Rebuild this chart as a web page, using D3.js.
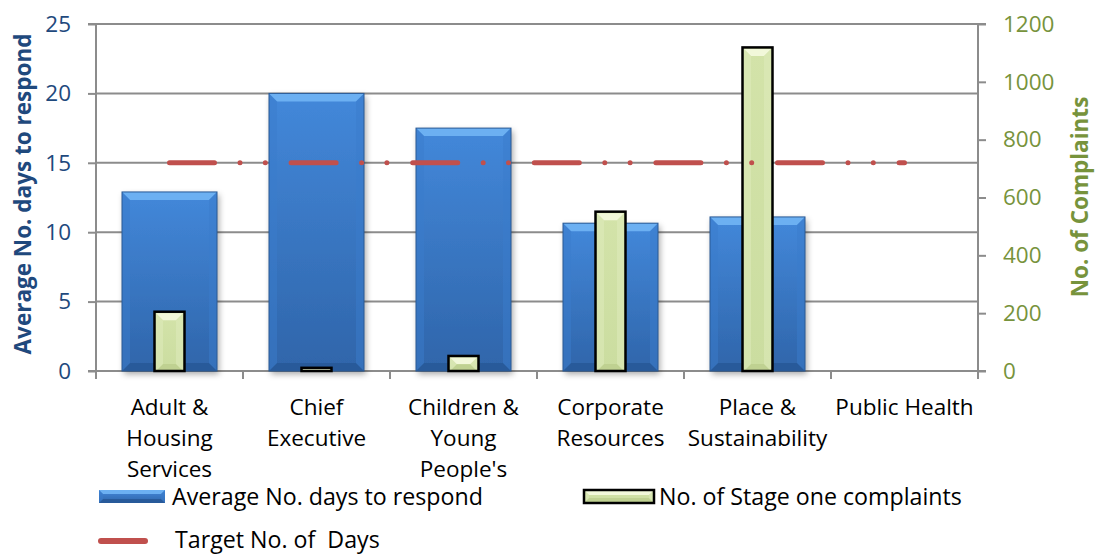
<!DOCTYPE html>
<html><head><meta charset="utf-8">
<script src="https://cdn.jsdelivr.net/npm/d3@7/dist/d3.min.js"></script>
<style>body{margin:0;background:#fff}svg{display:block}text{font-family:"Open Sans",sans-serif}</style>
</head><body><svg id="c" width="1098" height="554"></svg>
<script>
const categories = [["Adult &","Housing","Services"],["Chief","Executive"],["Children &","Young","People's"],["Corporate","Resources"],["Place &","Sustainability"],["Public Health"]];
const catKeys = ["Adult & Housing Services","Chief Executive","Children & Young People's","Corporate Resources","Place & Sustainability","Public Health"];
const avgDays = [12.9, 20.0, 17.5, 10.65, 11.1, 0];
const complaints = [205, 11, 52, 551, 1119, 0];
const target = [15, 15, 15, 15, 15, 15];
const leftTicks = [0,5,10,15,20,25];
const rightTicks = [0,200,400,600,800,1000,1200];

const svg = d3.select("#c");
const X0=96, X1=978, Y0=24, Y1=371;
const FS = 22.5, LFS = 23.2;
const x = d3.scaleBand().domain(catKeys).range([X0,X1]).paddingInner(0).paddingOuter(0);
const yL = d3.scaleLinear().domain([0,25]).range([Y1,Y0]);
const yR = d3.scaleLinear().domain([0,1200]).range([Y1,Y0]);
const gray="#8c8c8c", blueTxt="#1F497D", greenTxt="#77933C";

const defs = svg.append("defs");
const gB = defs.append("linearGradient").attr("id","gb").attr("x1",0).attr("y1",0).attr("x2",0).attr("y2",1);
gB.append("stop").attr("offset","0%").attr("stop-color","#4388da");
gB.append("stop").attr("offset","100%").attr("stop-color","#2f65aa");
const gG = defs.append("linearGradient").attr("id","gg").attr("x1",0).attr("y1",0).attr("x2",0).attr("y2",1);
gG.append("stop").attr("offset","0%").attr("stop-color","#d3e3a9");
gG.append("stop").attr("offset","100%").attr("stop-color","#cbdda0");
const f = defs.append("filter").attr("id","sh").attr("x","-20%").attr("y","-10%").attr("width","150%").attr("height","130%");
f.append("feDropShadow").attr("dx",2).attr("dy",3).attr("stdDeviation",3).attr("flood-color","#000").attr("flood-opacity",0.35);

// gridlines
svg.append("g").selectAll("line").data(leftTicks.filter(d=>d>0)).join("line")
  .attr("x1",X0).attr("x2",X1).attr("y1",d=>yL(d)).attr("y2",d=>yL(d))
  .attr("stroke",gray).attr("stroke-width",2);

// left axis
const la = svg.append("g").attr("transform",`translate(${X0},0)`)
  .call(d3.axisLeft(yL).tickValues(leftTicks).tickSize(8).tickPadding(17).tickFormat(d3.format("d")));
la.select(".domain").attr("stroke",gray).attr("stroke-width",2).attr("d",`M-8,${Y0}H0V${Y1}`);
la.selectAll(".tick line").attr("stroke",gray).attr("stroke-width",2);
la.selectAll(".tick text").attr("fill",blueTxt).attr("font-size",FS).attr("font-family","Open Sans");

// right axis
const ra = svg.append("g").attr("transform",`translate(${X1},0)`)
  .call(d3.axisRight(yR).tickValues(rightTicks).tickSize(8).tickPadding(17).tickFormat(d3.format("d")));
ra.select(".domain").attr("stroke",gray).attr("stroke-width",2).attr("d",`M8,${Y0}H0V${Y1}`);
ra.selectAll(".tick line").attr("stroke",gray).attr("stroke-width",2);
ra.selectAll(".tick text").attr("fill",greenTxt).attr("font-size",FS).attr("font-family","Open Sans");

// bottom axis
svg.append("line").attr("x1",X0-8).attr("x2",X1+8).attr("y1",Y1).attr("y2",Y1).attr("stroke",gray).attr("stroke-width",2);
const bounds = catKeys.map(c=>x(c)).concat([X1]);
svg.append("g").selectAll("line").data(bounds).join("line")
  .attr("x1",d=>d).attr("x2",d=>d).attr("y1",Y1).attr("y2",Y1+8).attr("stroke",gray).attr("stroke-width",2);

// category labels
svg.append("g").selectAll("text").data(categories).join("text")
  .attr("x",(d,i)=>x(catKeys[i])+x.bandwidth()/2).attr("y",415)
  .attr("text-anchor","middle").attr("font-size",FS).attr("fill","#000")
  .selectAll("tspan").data(d=>d).join("tspan")
  .attr("x",function(){return this.parentNode.getAttribute("x");})
  .attr("dy",(d,i)=>i===0?0:31).text(d=>d);

// blue bars
const bw = 95, gw = 30;
function bevel(g, x0, y0, w, h, light, dark, side, bv){
  bv = Math.min(bv, h/2, w/2);
  if(h<=0) return;
  g.append("polygon").attr("points",`${x0},${y0} ${x0+w},${y0} ${x0+w-bv},${y0+bv} ${x0+bv},${y0+bv}`).attr("fill",light);
  g.append("polygon").attr("points",`${x0},${y0+h} ${x0+w},${y0+h} ${x0+w-bv},${y0+h-bv} ${x0+bv},${y0+h-bv}`).attr("fill",dark);
  g.append("polygon").attr("points",`${x0},${y0} ${x0+bv},${y0+bv} ${x0+bv},${y0+h-bv} ${x0},${y0+h}`).attr("fill",side).attr("opacity",0.5);
  g.append("polygon").attr("points",`${x0+w},${y0} ${x0+w-bv},${y0+bv} ${x0+w-bv},${y0+h-bv} ${x0+w},${y0+h}`).attr("fill",side).attr("opacity",0.5);
}
const bg = svg.append("g");
avgDays.forEach((v,i)=>{
  if(v<=0) return;
  const cx = x(catKeys[i])+x.bandwidth()/2;
  const g = bg.append("g");
  const x0=cx-bw/2, y0=yL(v), h=Y1-yL(v);
  g.append("rect").attr("x",x0).attr("y",y0).attr("width",bw).attr("height",h).attr("fill","url(#gb)").attr("filter","url(#sh)");
  bevel(g,x0,y0,bw,h,"#6cb0f2","#285a9a","#3a7ccc",8);
  g.append("rect").attr("x",x0).attr("y",y0).attr("width",bw).attr("height",h).attr("fill","none").attr("stroke","#2a5a95").attr("stroke-width",1);
});

// green bars
const gg = svg.append("g");
complaints.forEach((v,i)=>{
  if(v<=0) return;
  const cx = x(catKeys[i])+x.bandwidth()/2;
  const g = gg.append("g");
  const x0=cx-gw/2, y0=yR(v), h=Y1-yR(v);
  g.append("rect").attr("x",x0).attr("y",y0).attr("width",gw).attr("height",h).attr("fill","url(#gg)");
  bevel(g,x0+1.5,y0+1.5,gw-3,h-1.5,"#f2f8da","#bfd191","#e0ecbd",7);
  g.append("rect").attr("x",x0).attr("y",y0).attr("width",gw).attr("height",h).attr("fill","none").attr("stroke","#000").attr("stroke-width",2.5);
});

// target line
const line = d3.line().x((d,i)=>x(catKeys[i])+x.bandwidth()/2).y(d=>yL(d));
svg.append("path").datum(target).attr("d",line).attr("fill","none")
  .attr("stroke","#C0504D").attr("stroke-width",5).attr("stroke-linecap","round")
  .attr("stroke-dasharray","45,25.5,0,25.3,0,25.8");

// axis titles
svg.append("text").attr("transform","translate(31,194) rotate(-90)").attr("text-anchor","middle")
  .attr("font-size",FS).attr("font-weight","bold").attr("fill",blueTxt).text("Average No. days to respond");
svg.append("text").attr("transform","translate(1088,197) rotate(-90)").attr("text-anchor","middle")
  .attr("font-size",FS).attr("font-weight","bold").attr("fill",greenTxt).text("No. of Complaints");

// legend
const lg = svg.append("g");
const sw1 = lg.append("g");
sw1.append("rect").attr("x",99).attr("y",490).attr("width",66).attr("height",13).attr("fill","url(#gb)");
bevel(sw1,99,490,66,13,"#6cb0f2","#285a9a","#3a7ccc",4);
lg.append("text").attr("x",172).attr("y",505).attr("font-size",LFS).text("Average No. days to respond");
const sw2 = lg.append("g");
sw2.append("rect").attr("x",584).attr("y",490).attr("width",70).attr("height",13).attr("fill","url(#gg)");
bevel(sw2,585,491,68,11,"#f2f8da","#bfd191","#e0ecbd",4);
sw2.append("rect").attr("x",584).attr("y",490).attr("width",70).attr("height",13).attr("fill","none").attr("stroke","#000").attr("stroke-width",2.5);
lg.append("text").attr("x",659).attr("y",505).attr("font-size",LFS).text("No. of Stage one complaints");
lg.append("line").attr("x1",101).attr("x2",145).attr("y1",541).attr("y2",541).attr("stroke","#C0504D").attr("stroke-width",6).attr("stroke-linecap","round");
lg.append("text").attr("x",175).attr("y",548).attr("font-size",LFS).attr("xml:space","preserve").text("Target No. of  Days");
</script></body></html>
